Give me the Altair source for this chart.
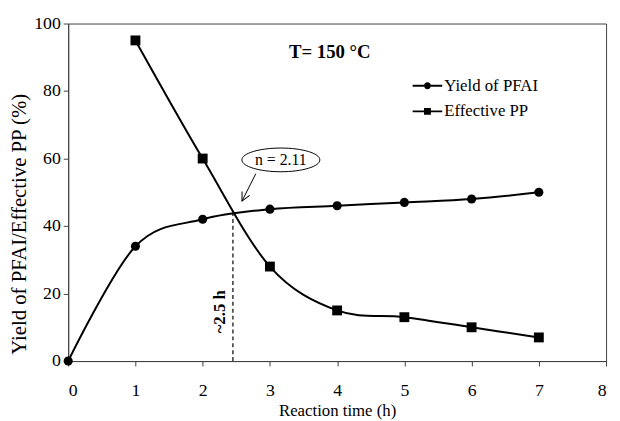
import altair as alt
import pandas as pd

# ---- data ----
time_h = [0, 1, 2, 3, 4, 5, 6, 7]
yield_pfai = [0, 34, 42, 45, 46, 47, 48, 50]
pp_time = [1, 2, 3, 4, 5, 6, 7]
effective_pp = [95, 60, 28, 15, 13, 10, 7]
series_names = ["Yield of PFAI", "Effective PP"]

x_ticks = [0, 1, 2, 3, 4, 5, 6, 7, 8]
y_ticks = [0, 20, 40, 60, 80, 100]

title_text = ["T= 150 °C"]
title_pos_x = [3.89]
title_pos_y = [91.5]

crossing_x = [2.45]
crossing_y = [43.8]
crossing_text = ["~2.5 h"]
crossing_text_x = [2.26]
crossing_text_y = [14.6]

n_text = ["n = 2.11"]
n_x = [3.163]
n_y = [59.6]
arrow_x = [2.79, 2.585]
arrow_y = [55.5, 47.4]

FONT = "Liberation Serif"

yield_df = pd.DataFrame({"time": time_h, "value": yield_pfai, "series": series_names[0]})
pp_df = pd.DataFrame({"time": pp_time, "value": effective_pp, "series": series_names[1]})
all_df = pd.concat([yield_df, pp_df], ignore_index=True)

xs = alt.Scale(domain=[0, 8], nice=False, zero=False)
ys = alt.Scale(domain=[0, 100], nice=False)

X = alt.X("time:Q", scale=xs, title="Reaction time (h)",
          axis=alt.Axis(values=x_ticks, format="d", labelPadding=16,
                        titleBaseline="alphabetic", titleY=55))
Y = alt.Y("value:Q", scale=ys, title="Yield of PFAI/Effective PP (%)",
          axis=alt.Axis(values=y_ticks, labelPadding=3, titleFontSize=21,
                        titleBaseline="alphabetic", titleX=-43, titleY=203,
                        titleAngle=270, titleAlign="center"))

lines = alt.Chart(all_df).mark_line(interpolate="cardinal", color="black", strokeWidth=2).encode(
    x=X, y=Y, detail="series:N")

circles = alt.Chart(yield_df).mark_point(shape="circle", filled=True, color="black",
                                          opacity=1, size=85).encode(x="time:Q", y="value:Q")
squares = alt.Chart(pp_df).mark_point(shape="square", filled=True, color="black",
                                       opacity=1, size=100).encode(x="time:Q", y="value:Q")

seg = "M-1.5,-0.1H-0.35V0.1H-1.5ZM0.35,-0.1H1.5V0.1H0.35Z"
circle_path = seg + "M0.35,0A0.35,0.35,0,1,1,-0.35,0A0.35,0.35,0,1,1,0.35,0Z"
square_path = seg + "M-0.35,-0.35H0.35V0.35H-0.35Z"

legend_layer = alt.Chart(all_df).transform_filter("false").mark_point(
    filled=True, color="black", opacity=1).encode(
    x="time:Q", y="value:Q",
    shape=alt.Shape("series:N",
                    scale=alt.Scale(domain=series_names, range=[circle_path, square_path]),
                    legend=alt.Legend(title=None, orient="none", legendX=353, legendY=52,
                                      symbolSize=400, symbolFillColor="black",
                                      symbolOpacity=1, labelFont=FONT, labelFontSize=17,
                                      labelColor="black", labelOffset=6, rowPadding=7,
                                      padding=0)))

rule_df = pd.DataFrame({"x": crossing_x, "y0": [0], "y1": crossing_y})
rule = alt.Chart(rule_df).mark_rule(color="black", strokeWidth=1.2, strokeDash=[4, 3]).encode(
    x="x:Q", y="y0:Q", y2="y1:Q")

ctext_df = pd.DataFrame({"x": crossing_text_x, "y": crossing_text_y, "t": crossing_text})
ctext = alt.Chart(ctext_df).mark_text(font=FONT, fontSize=17, fontWeight="bold", angle=270,
                                      color="black").encode(x="x:Q", y="y:Q", text="t:N")

title_df = pd.DataFrame({"x": title_pos_x, "y": title_pos_y, "t": title_text})
title = alt.Chart(title_df).mark_text(font=FONT, fontSize=19, fontWeight="bold",
                                      color="black").encode(x="x:Q", y="y:Q", text="t:N")

ellipse_path = "M-1,0A1,0.304,0,1,1,1,0A1,0.304,0,1,1,-1,0Z"
n_df = pd.DataFrame({"x": n_x, "y": n_y, "t": n_text})
ellipse = alt.Chart(n_df).mark_point(shape=ellipse_path, size=6241, filled=True, fill="white",
                                     stroke="black", strokeWidth=1, opacity=1).encode(
    x="x:Q", y="y:Q")
ntext = alt.Chart(n_df).mark_text(font=FONT, fontSize=16, color="black").encode(
    x="x:Q", y="y:Q", text="t:N")

arrow_df = pd.DataFrame({"x": arrow_x, "y": arrow_y})
arrow_line = alt.Chart(arrow_df).mark_line(color="black", strokeWidth=1).encode(x="x:Q", y="y:Q")
head_df = pd.DataFrame({"x": arrow_x[-1:], "y": arrow_y[-1:]})
arrow_head = alt.Chart(head_df).mark_point(shape="M-0.5,1L0,0L0.5,1", size=300, angle=207,
                                           filled=False, stroke="black", strokeWidth=1,
                                           opacity=1).encode(x="x:Q", y="y:Q")

chart = alt.layer(
    rule, lines, circles, squares, legend_layer, ctext, title, arrow_line, arrow_head,
    ellipse, ntext
).properties(
    width=545, height=342,
    autosize=alt.AutoSizeParams(type="none"),
    padding={"left": 61, "top": 13, "right": 6, "bottom": 58},
    background="white",
).configure(
    font=FONT
).configure_view(
    stroke="#404040", strokeWidth=1
).configure_axis(
    grid=False, labelFont=FONT, titleFont=FONT, labelFontSize=18, titleFontSize=17,
    labelColor="black", titleColor="black", titleFontWeight="normal",
    domainColor="#404040", tickColor="#404040", tickSize=5, domainWidth=1
).configure_legend(
    labelFont=FONT
)

chart.save("out.html", embed_options={"renderer": "svg", "actions": False})
